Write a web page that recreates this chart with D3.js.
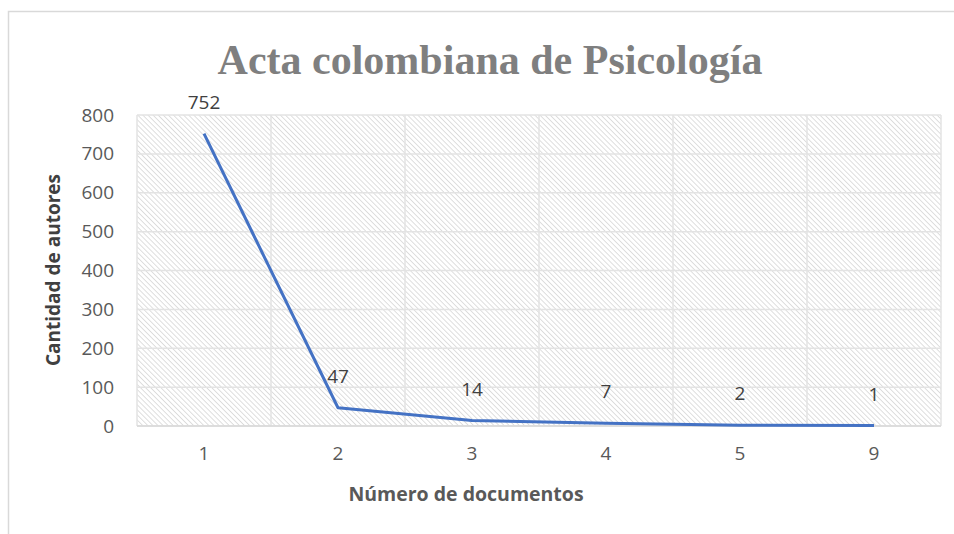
<!DOCTYPE html>
<html>
<head>
<meta charset="utf-8">
<script src="https://cdn.jsdelivr.net/npm/d3@7"></script>
<style>
  body { margin: 0; background: #fff; }
  svg text { font-family: "Open Sans", "Liberation Sans", sans-serif; }
</style>
</head>
<body>
<svg id="chart" width="954" height="534"></svg>
<script>
  // data
  var categories = ["1", "2", "3", "4", "5", "9"];
  var authors = [752, 47, 14, 7, 2, 1];
  var yTicks = [0, 100, 200, 300, 400, 500, 600, 700, 800];

  var svg = d3.select("#chart");
  var margin = { left: 137, right: 13, top: 115, bottom: 108 };
  var w = 954 - margin.left - margin.right,
      h = 534 - margin.top - margin.bottom;

  // chart frame
  svg.append("rect").attr("x", 8.5).attr("y", 11.5).attr("width", 960).attr("height", 540)
    .attr("fill", "#fff").attr("stroke", "#d9d9d9").attr("stroke-width", 1.5);

  // hatch pattern for plot area
  var defs = svg.append("defs");
  defs.append("pattern").attr("id", "hatch").attr("patternUnits", "userSpaceOnUse")
    .attr("width", 3.6).attr("height", 3.6).attr("patternTransform", "rotate(-45)")
    .append("line").attr("x1", 0).attr("y1", 0).attr("x2", 0).attr("y2", 3.6)
    .attr("stroke", "#bdbdbd").attr("stroke-width", 1);

  var x = d3.scaleBand().domain(categories).range([0, w]);
  var y = d3.scaleLinear().domain([0, 800]).range([h, 0]);

  var g = svg.append("g").attr("transform", "translate(" + margin.left + "," + margin.top + ")");

  g.append("rect").attr("width", w).attr("height", h).attr("fill", "url(#hatch)");

  // gridlines
  g.selectAll(".hgrid").data(yTicks).enter().append("line")
    .attr("x1", 0).attr("x2", w)
    .attr("y1", function(d) { return y(d); }).attr("y2", function(d) { return y(d); })
    .attr("stroke", "#e3e3e3").attr("stroke-width", 1.5);
  var bounds = categories.map(function(c) { return x(c); }).concat([w]);
  g.selectAll(".vgrid").data(bounds).enter().append("line")
    .attr("x1", function(d) { return d; }).attr("x2", function(d) { return d; })
    .attr("y1", 0).attr("y2", h)
    .attr("stroke", "#e3e3e3").attr("stroke-width", 1.5);
  g.append("line").attr("x1", 0).attr("x2", w).attr("y1", h).attr("y2", h)
    .attr("stroke", "#d9d9d9").attr("stroke-width", 1.5);

  // axes
  var yAxis = g.append("g").call(d3.axisLeft(y).tickValues(yTicks).tickSize(0).tickPadding(23));
  yAxis.select(".domain").remove();
  yAxis.selectAll("text").attr("font-size", 19).attr("fill", "#595959")
    .style("font-family", "'Open Sans', sans-serif");

  var xAxis = g.append("g").attr("transform", "translate(0," + h + ")")
    .call(d3.axisBottom(x).tickSize(0).tickPadding(21));
  xAxis.select(".domain").remove();
  xAxis.selectAll("text").attr("font-size", 19).attr("fill", "#595959")
    .style("font-family", "'Open Sans', sans-serif");

  // line
  var line = d3.line()
    .x(function(d, i) { return x(categories[i]) + x.bandwidth() / 2; })
    .y(function(d) { return y(d); });
  g.append("path").datum(authors).attr("d", line)
    .attr("fill", "none").attr("stroke", "#4472c4").attr("stroke-width", 3)
    .attr("stroke-linejoin", "round");

  // data labels
  g.selectAll(".lbl").data(authors).enter().append("text")
    .attr("x", function(d, i) { return x(categories[i]) + x.bandwidth() / 2; })
    .attr("y", function(d) { return y(d) - 25; })
    .attr("text-anchor", "middle").attr("font-size", 19).attr("fill", "#404040")
    .text(function(d) { return d; });

  // titles
  svg.append("text").attr("x", 490).attr("y", 74).attr("text-anchor", "middle")
    .style("font-family", "'Liberation Serif', 'DejaVu Serif', serif")
    .attr("font-size", 42).attr("font-weight", "bold").attr("fill", "#7f7f7f")
    .text("Acta colombiana de Psicología");

  svg.append("text").attr("transform", "translate(60,270) rotate(-90)")
    .attr("text-anchor", "middle").attr("font-size", 19).attr("font-weight", "bold")
    .attr("fill", "#404040").text("Cantidad de autores");

  svg.append("text").attr("x", 466).attr("y", 501).attr("text-anchor", "middle")
    .attr("font-size", 19.5).attr("font-weight", "bold").attr("fill", "#595959")
    .text("Número de documentos");
</script>
</body>
</html>
